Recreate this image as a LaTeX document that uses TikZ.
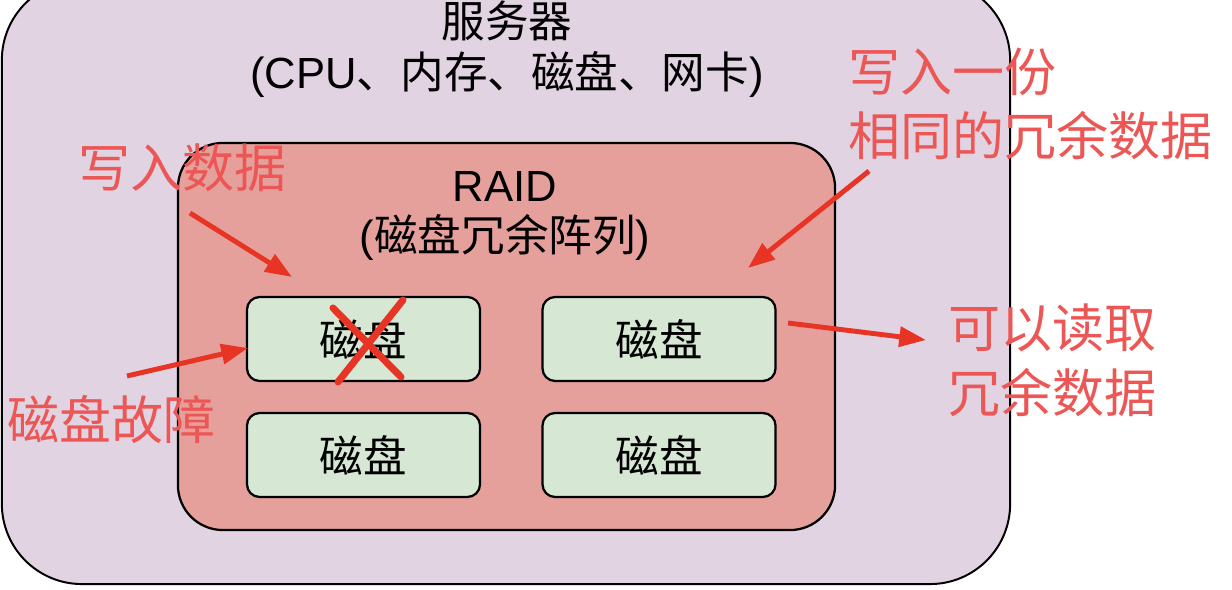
\documentclass[tikz,border=0pt]{standalone}
\usepackage{fontspec}
\setmainfont{Noto Sans CJK SC}
\newfontfamily\latinfont{Liberation Sans}
\usepackage{tikz}
\usetikzlibrary{arrows.meta,positioning}
\usepackage{xcolor}
\definecolor{serverFill}{RGB}{225,211,226}
\definecolor{raidFill}{RGB}{229,160,156}
\definecolor{diskFill}{RGB}{214,231,212}
\definecolor{noteRed}{RGB}{236,86,84}
\definecolor{arrowRed}{RGB}{232,52,36}

\begin{document}
\begin{tikzpicture}[x=0.025cm,y=-0.025cm,
  server/.style={draw=black,fill=serverFill,line width=1.4pt,rounded corners=57pt,
                 minimum width=25.2cm,minimum height=15.1cm,inner sep=0pt},
  raid/.style={draw=black,fill=raidFill,line width=1.6pt,rounded corners=32pt,
               minimum width=16.425cm,minimum height=9.675cm,inner sep=0pt},
  disk/.style={draw=black,fill=diskFill,line width=1.6pt,rounded corners=9pt,
               minimum width=5.825cm,minimum height=2.1cm,inner sep=0pt,
               font=\fontsize{31}{36}\selectfont},
  title/.style={align=center,inner sep=0pt,font=\fontsize{31}{36}\selectfont},
  note/.style={align=left,inner sep=0pt,text=noteRed,font=\fontsize{37}{46}\selectfont},
  redarrow/.style={draw=arrowRed,line width=3.5pt,-{Triangle[length=19pt,width=14pt]}},
  cross/.style={draw=arrowRed,line width=5pt,line cap=round},
]
\useasboundingbox (0,0) rectangle (1232,590);
\node[server] (server) at (506,282) {};
\node[title] (serverTitle) at (507,49) {服务器\\{\latinfont (CPU}、内存、磁盘、网卡{\latinfont )}};
\node[raid] (raid) at (506.5,336.5) {};
\node[title] (raidTitle) at (505,216) {{\latinfont RAID}\\{\latinfont (}磁盘冗余阵列{\latinfont )}};
\node[disk] (disk1) at (363.5,339) {磁盘};
\node[disk] (disk2) at (659,339) {磁盘};
\node[disk] (disk3) at (363.5,455) {磁盘};
\node[disk] (disk4) at (659,455) {磁盘};
\node[note,anchor=west] (writeNote) at (78,168) {写入数据};
\node[note,anchor=west] (copyNote) at (848,104) {写入一份\\相同的冗余数据};
\node[note,anchor=west] (readNote) at (948,360) {可以读取\\冗余数据};
\node[note,anchor=west] (failNote) at (7,419) {磁盘故障};
\draw[cross] (333,308) -- (401,377);
\draw[cross] (403,300) -- (338,382);
\coordinate (writeFrom) at (190,213);
\coordinate (writeTo) at (292,277);
\coordinate (copyFrom) at (869,171);
\coordinate (copyTo) at (748,268);
\coordinate (failFrom) at (127,376);
\coordinate (failTo) at (248,348);
\coordinate (readFrom) at (788,323);
\coordinate (readTo) at (926,340);
\draw[redarrow] (writeFrom) -- (writeTo);
\draw[redarrow] (copyFrom) -- (copyTo);
\draw[redarrow] (failFrom) -- (failTo);
\draw[redarrow] (readFrom) -- (readTo);
\end{tikzpicture}
\end{document}
